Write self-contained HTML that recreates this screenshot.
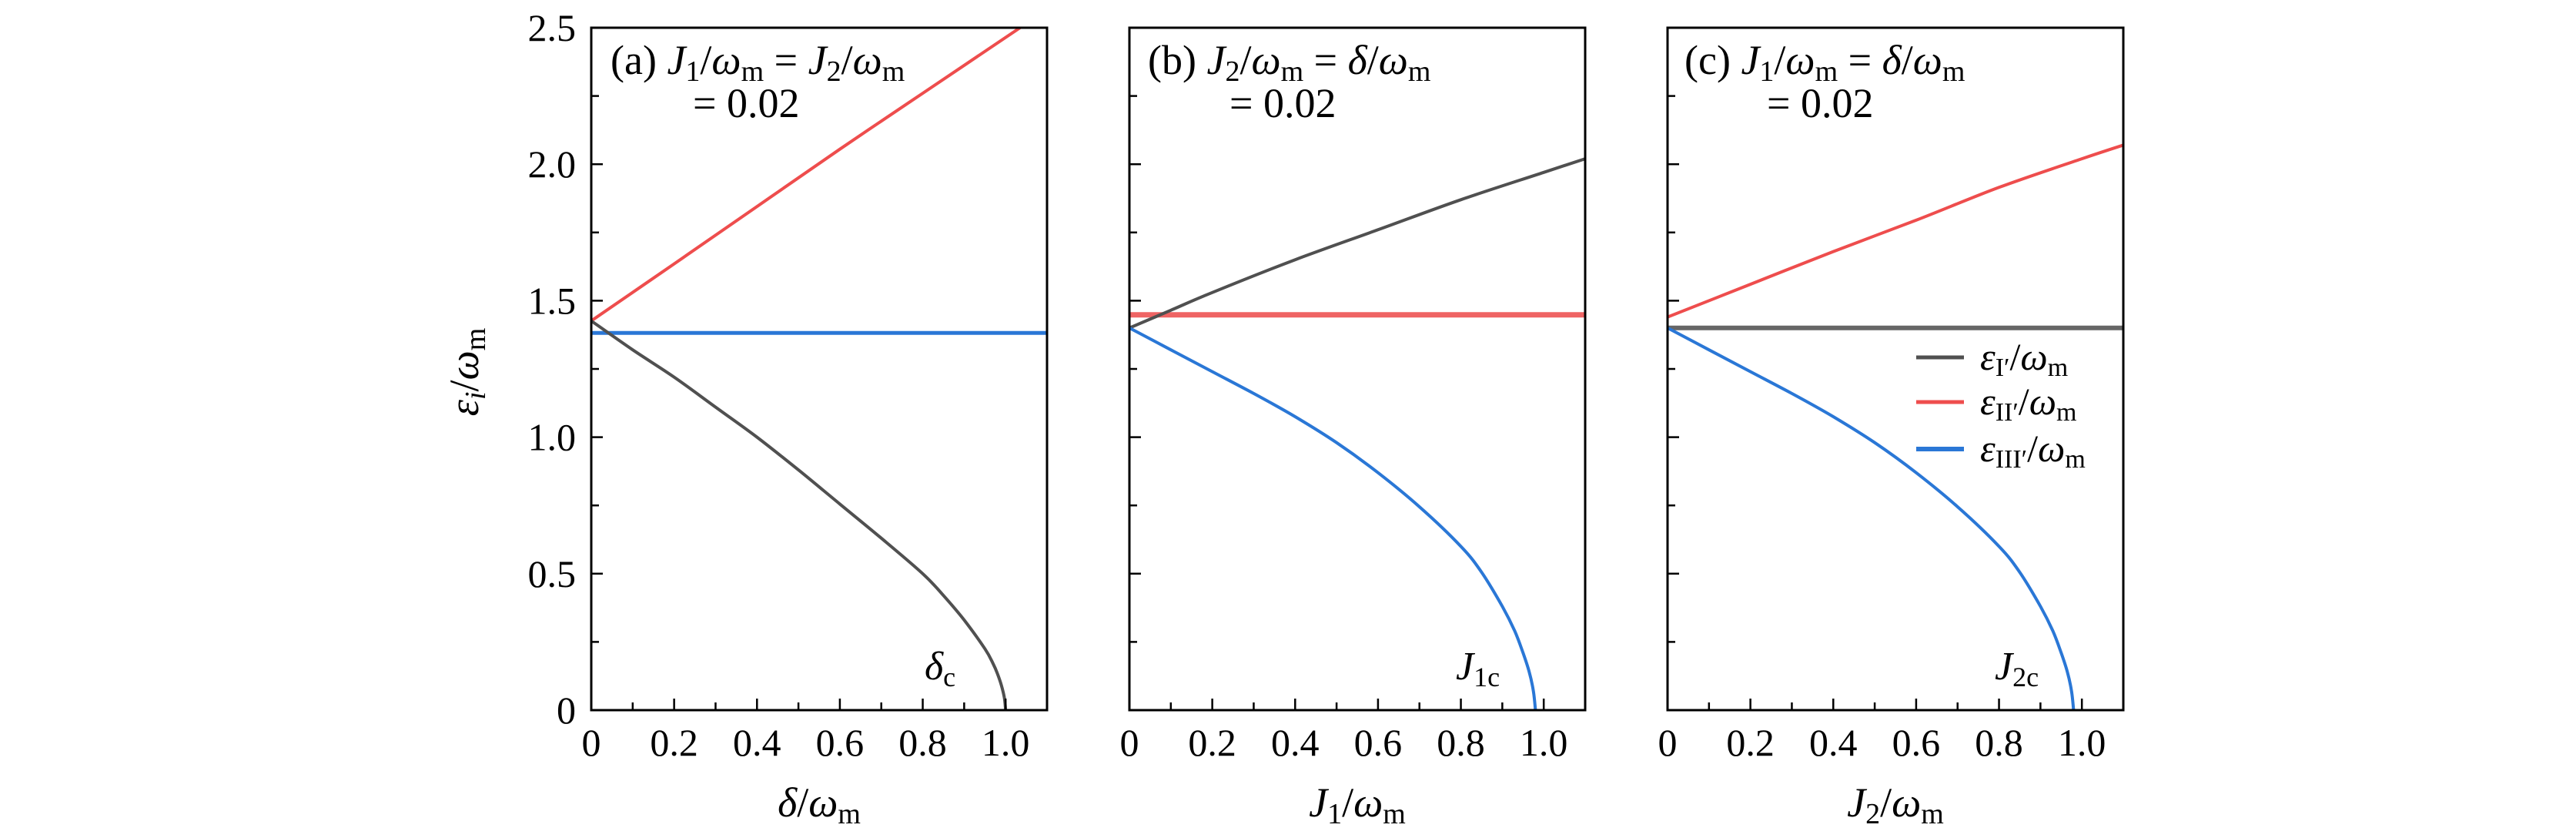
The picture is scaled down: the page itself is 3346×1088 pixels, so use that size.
<!DOCTYPE html>
<html><head><meta charset="utf-8"><style>
body{margin:0;background:#fff}
svg text{font-family:"Liberation Serif",serif;fill:#000}
</style></head><body>
<svg id="chart" width="3346" height="1083" viewBox="0 0 3346 1083" xmlns="http://www.w3.org/2000/svg">
<g id="root"></g>
</svg>
<script>
// panel (a)
const aGray = [[0,1.426],[0.1,1.32],[0.2,1.22],[0.3,1.11],[0.4,1.0],[0.5,0.88],[0.6,0.755],[0.7,0.63],[0.8,0.50],[0.85,0.42],[0.9,0.33],[0.95,0.225],[0.97,0.17],[0.98,0.135],[0.99,0.09],[0.997,0.045],[1.0,0]];
const aRed = [[0,1.426],[0.2,1.635],[0.4,1.845],[0.6,2.055],[0.8,2.26],[1.035,2.5]];
const aBlue = [[0,1.382],[1.1,1.382]];
// panel (b)
const bGray = [[0,1.40],[0.1,1.465],[0.2,1.53],[0.4,1.65],[0.6,1.76],[0.8,1.87],[1.0,1.97],[1.1,2.02]];
const bRed = [[0,1.448],[1.1,1.448]];
const bBlue = [[0,1.40],[0.1,1.32],[0.2,1.24],[0.3,1.16],[0.4,1.075],[0.5,0.98],[0.6,0.87],[0.7,0.745],[0.8,0.60],[0.85,0.505],[0.9,0.38],[0.93,0.29],[0.95,0.21],[0.965,0.14],[0.975,0.07],[0.98,0]];
// panel (c)
const cGray = [[0,1.40],[1.1,1.40]];
const cRed = [[0,1.44],[0.2,1.56],[0.4,1.68],[0.6,1.795],[0.8,1.915],[1.0,2.02],[1.1,2.07]];
const cBlue = [[0,1.40],[0.1,1.32],[0.2,1.24],[0.3,1.16],[0.4,1.075],[0.5,0.98],[0.6,0.87],[0.7,0.745],[0.8,0.60],[0.85,0.505],[0.9,0.38],[0.93,0.29],[0.95,0.21],[0.965,0.14],[0.975,0.07],[0.98,0]];
const xTickLabels = ["0","0.2","0.4","0.6","0.8","1.0"];
const yTickLabels = ["0","0.5","1.0","1.5","2.0","2.5"];

const NS="http://www.w3.org/2000/svg";
const root=document.getElementById('root');
function el(tag,attrs,parent){const e=document.createElementNS(NS,tag);for(const k in attrs)e.setAttribute(k,attrs[k]);(parent||root).appendChild(e);return e;}
const TOP=36,BOT=922,W=592;
function ys(v){return BOT-(v/2.5)*(BOT-TOP);}
function smoothPath(P){
 let d='M'+P[0][0].toFixed(1)+','+P[0][1].toFixed(1);
 for(let i=0;i<P.length-1;i++){
  const p0=P[i-1]||P[i],p1=P[i],p2=P[i+1],p3=P[i+2]||P[i+1];
  const c1=[p1[0]+(p2[0]-p0[0])/6,p1[1]+(p2[1]-p0[1])/6];
  const c2=[p2[0]-(p3[0]-p1[0])/6,p2[1]-(p3[1]-p1[1])/6];
  d+=' C'+c1.map(v=>v.toFixed(1)).join(',')+' '+c2.map(v=>v.toFixed(1)).join(',')+' '+p2.map(v=>v.toFixed(1)).join(',');
 }
 return d;
}
const panels=[
 {left:768,name:'a',series:[[aRed,'#ee4d4d',4,'red'],[aBlue,'#2a77d6',5,'blue'],[aGray,'#505050',4,'gray']]},
 {left:1467,name:'b',series:[[bRed,'#ef6464',7,'red'],[bGray,'#505050',4,'gray'],[bBlue,'#2a77d6',4,'blue']]},
 {left:2166,name:'c',series:[[cGray,'#666',6,'gray'],[cRed,'#ee4d4d',4,'red'],[cBlue,'#2a77d6',4,'blue']]}
];
panels.forEach((p,pi)=>{
 const g=el('g',{});
 
 
 const xsc=v=>p.left+v/1.1*W;
 const cp=el('clipPath',{id:'cp'+pi},g);
 el('rect',{x:p.left,y:TOP,width:W,height:BOT-TOP},cp);
 p.series.forEach(s=>{
  const P=s[0].map(d=>[xsc(d[0]),ys(d[1])]);
  const pl=el('path',{d:smoothPath(P),fill:'none',stroke:s[1],'stroke-width':s[2],'stroke-linejoin':'round','clip-path':'url(#cp'+pi+')'},g);
  
  
 });
 const fr=el('rect',{x:p.left,y:TOP,width:W,height:BOT-TOP,fill:'none',stroke:'#000','stroke-width':3},g);
 
 
 for(let i=1;i<=10;i++){const v=i*0.1;const x=xsc(v);el('line',{x1:x,x2:x,y1:BOT,y2:BOT-(i%2==0?15:10),stroke:'#000','stroke-width':2.5},g);}
 for(let i=1;i<10;i++){const v=i*0.25;const y=ys(v);el('line',{x1:p.left,x2:p.left+(i%2==0?15:10),y1:y,y2:y,stroke:'#000','stroke-width':2.5},g);}
 xTickLabels.forEach((t,i)=>{const tx=el('text',{x:xsc(i*0.2),y:981,'font-size':50,'text-anchor':'middle'},g);tx.textContent=t;
  });
 if(pi==0){yTickLabels.forEach((t,i)=>{const tx=el('text',{x:748,y:ys(i*0.5)+17,'font-size':50,'text-anchor':'end'},g);tx.textContent=t;
  });}
});
const extra=`
<text x="621" y="483" font-size="54" text-anchor="middle" transform="rotate(-90 621 483)"><tspan font-style="italic">ε</tspan><tspan font-style="italic" font-size="38" dy="9">i</tspan><tspan dy="-9">/</tspan><tspan font-style="italic">ω</tspan><tspan font-size="38" dy="9">m</tspan></text>
<text x="1064" y="1060" font-size="54" text-anchor="middle"><tspan font-style="italic">δ</tspan>/<tspan font-style="italic">ω</tspan><tspan font-size="38" dy="9">m</tspan></text>
<text x="1763" y="1060" font-size="54" text-anchor="middle"><tspan font-style="italic">J</tspan><tspan font-size="38" dy="9">1</tspan><tspan dy="-9">/</tspan><tspan font-style="italic">ω</tspan><tspan font-size="38" dy="9">m</tspan></text>
<text x="2462" y="1060" font-size="54" text-anchor="middle"><tspan font-style="italic">J</tspan><tspan font-size="38" dy="9">2</tspan><tspan dy="-9">/</tspan><tspan font-style="italic">ω</tspan><tspan font-size="38" dy="9">m</tspan></text>
<text x="793" y="96" font-size="54">(a)  <tspan font-style="italic">J</tspan><tspan font-size="38" dy="9">1</tspan><tspan dy="-9">/</tspan><tspan font-style="italic">ω</tspan><tspan font-size="38" dy="9">m</tspan><tspan dy="-9"> = </tspan><tspan font-style="italic">J</tspan><tspan font-size="38" dy="9">2</tspan><tspan dy="-9">/</tspan><tspan font-style="italic">ω</tspan><tspan font-size="38" dy="9">m</tspan></text>
<text x="900" y="152" font-size="54">= 0.02</text>
<text x="1491" y="96" font-size="54">(b)  <tspan font-style="italic">J</tspan><tspan font-size="38" dy="9">2</tspan><tspan dy="-9">/</tspan><tspan font-style="italic">ω</tspan><tspan font-size="38" dy="9">m</tspan><tspan dy="-9"> = </tspan><tspan font-style="italic">δ</tspan>/<tspan font-style="italic">ω</tspan><tspan font-size="38" dy="9">m</tspan></text>
<text x="1597" y="152" font-size="54">= 0.02</text>
<text x="2188" y="96" font-size="54">(c)  <tspan font-style="italic">J</tspan><tspan font-size="38" dy="9">1</tspan><tspan dy="-9">/</tspan><tspan font-style="italic">ω</tspan><tspan font-size="38" dy="9">m</tspan><tspan dy="-9"> = </tspan><tspan font-style="italic">δ</tspan>/<tspan font-style="italic">ω</tspan><tspan font-size="38" dy="9">m</tspan></text>
<text x="2295" y="152" font-size="54">= 0.02</text>
<text x="1201" y="882" font-size="52"><tspan font-style="italic">δ</tspan><tspan font-size="36" dy="9">c</tspan></text>
<text x="1891" y="882" font-size="52"><tspan font-style="italic">J</tspan><tspan font-size="36" dy="9">1c</tspan></text>
<text x="2591" y="882" font-size="52"><tspan font-style="italic">J</tspan><tspan font-size="36" dy="9">2c</tspan></text>
<g>
<line x1="2489" x2="2551" y1="464" y2="464" stroke="#505050" stroke-width="5"/>
<line x1="2489" x2="2551" y1="522" y2="522" stroke="#ee4d4d" stroke-width="5"/>
<line x1="2489" x2="2551" y1="583" y2="583" stroke="#2a77d6" stroke-width="6"/>
<text x="2572" y="480" font-size="50"><tspan font-style="italic">ε</tspan><tspan font-size="34" dy="8">I′</tspan><tspan dy="-8">/</tspan><tspan font-style="italic">ω</tspan><tspan font-size="34" dy="8">m</tspan></text>
<text x="2572" y="538" font-size="50"><tspan font-style="italic">ε</tspan><tspan font-size="34" dy="8">II′</tspan><tspan dy="-8">/</tspan><tspan font-style="italic">ω</tspan><tspan font-size="34" dy="8">m</tspan></text>
<text x="2572" y="599" font-size="50"><tspan font-style="italic">ε</tspan><tspan font-size="34" dy="8">III′</tspan><tspan dy="-8">/</tspan><tspan font-style="italic">ω</tspan><tspan font-size="34" dy="8">m</tspan></text>
</g>`;
root.insertAdjacentHTML('beforeend',extra);
</script>
</body></html>
